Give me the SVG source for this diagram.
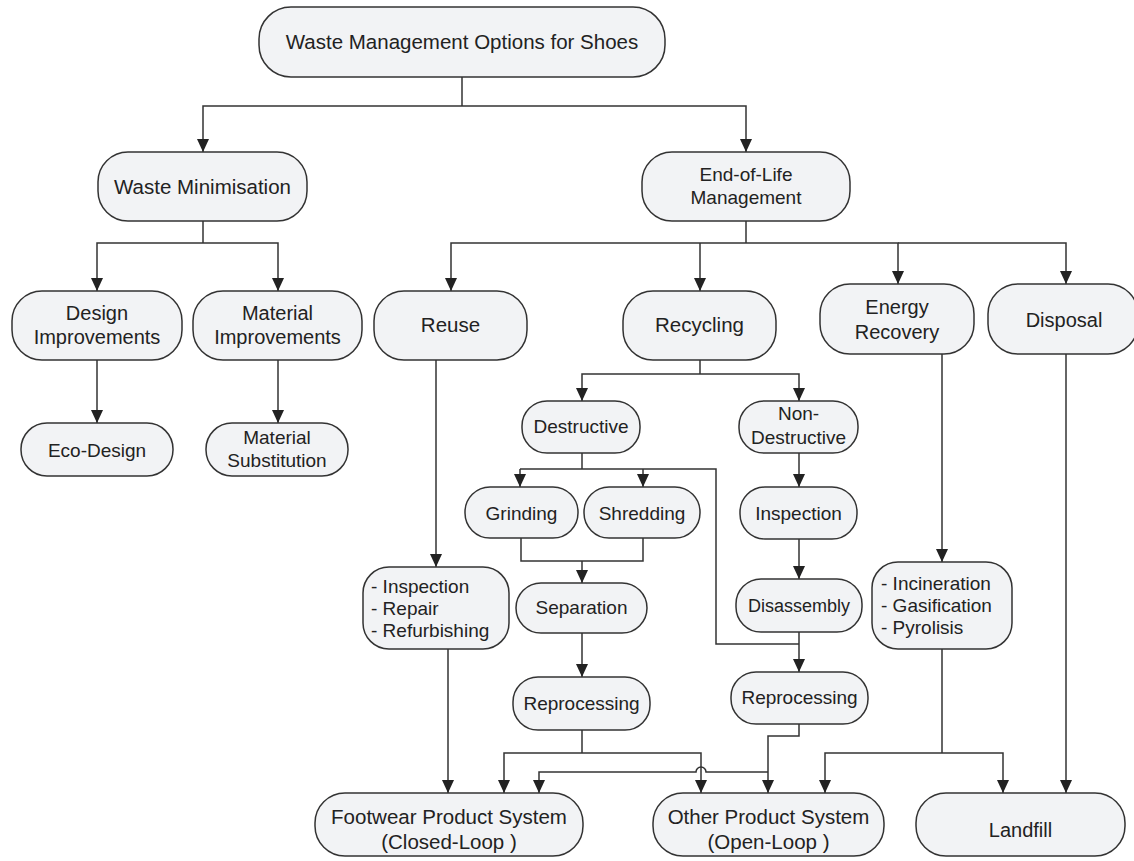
<svg xmlns="http://www.w3.org/2000/svg" width="1134" height="861" viewBox="0 0 1134 861">
<style>
  .box { fill: #f2f3f5; stroke: #333; stroke-width: 1.5; }
  .t { font-family: "Liberation Sans", Arial, sans-serif; font-size: 19px; fill: #222; text-anchor: middle; }
  .t20 { font-size: 20px; }
  .t21 { font-size: 20.5px; }
  .l { text-anchor: start; }
  .c { fill: none; stroke: #333; stroke-width: 1.5; }
  .a { marker-end: url(#arr); }
</style>
<defs>
  <marker id="arr" markerUnits="userSpaceOnUse" markerWidth="12" markerHeight="13" viewBox="0 0 12 13" refX="6" refY="13" orient="0">
    <path d="M0,0 L12,0 L6,13 z" fill="#222"/>
  </marker>
</defs>
<rect width="1134" height="861" fill="#ffffff"/>

<g id="connectors">
  <path class="c" d="M462 77 V106"/>
  <path class="c a" d="M462 106 H203 V152"/>
  <path class="c a" d="M462 106 H746 V152"/>
  <path class="c" d="M203 221 V243"/>
  <path class="c a" d="M203 243 H97 V291"/>
  <path class="c a" d="M203 243 H278 V291"/>
  <path class="c a" d="M97 360 V423"/>
  <path class="c a" d="M278 360 V423"/>
  <path class="c" d="M746 221 V243"/>
  <path class="c a" d="M746 243 H451 V291"/>
  <path class="c a" d="M700 243 V291"/>
  <path class="c a" d="M746 243 H898 V284"/>
  <path class="c a" d="M898 243 H1066 V284"/>
  <path class="c a" d="M436 360 V567"/>
  <path class="c" d="M700 360 V374"/>
  <path class="c a" d="M700 374 H582 V401"/>
  <path class="c a" d="M700 374 H799 V401"/>
  <path class="c" d="M582 453 V469"/>
  <path class="c" d="M520 469 H716 V644 H799"/>
  <path class="c a" d="M520 469 V487"/>
  <path class="c a" d="M643 469 V487"/>
  <path class="c" d="M521 538 V561 H643 V538"/>
  <path class="c a" d="M582 561 V583"/>
  <path class="c a" d="M582 633 V677"/>
  <path class="c a" d="M799 453 V487"/>
  <path class="c a" d="M799 539 V579"/>
  <path class="c a" d="M799 632 V672"/>
  <path class="c" d="M582 730 V753"/>
  <path class="c a" d="M582 753 H504 V793"/>
  <path class="c a" d="M582 753 H701 V793"/>
  <path class="c a" d="M799 724 V736 H768 V793"/>
  <path class="c a" d="M768 772 H706 A5 5 0 0 0 696 772 H539 V793"/>
  <path class="c a" d="M448 649 V793"/>
  <path class="c a" d="M942 354 V562"/>
  <path class="c" d="M942 649 V753"/>
  <path class="c a" d="M942 753 H825 V793"/>
  <path class="c a" d="M942 753 H1003 V793"/>
  <path class="c a" d="M1066 354 V793"/>
</g>

<g id="n-top">
  <rect class="box" x="259" y="7" width="406" height="70" rx="32"/>
  <text class="t t21" x="462" y="49">Waste Management Options for Shoes</text>
</g>
<g id="n-wmin">
  <rect class="box" x="98" y="152" width="209" height="69" rx="30"/>
  <text class="t t21" x="202.5" y="194">Waste Minimisation</text>
</g>
<g id="n-eol">
  <rect class="box" x="642" y="152" width="208" height="69" rx="30"/>
  <text class="t" x="746" y="181">End-of-Life</text>
  <text class="t" x="746" y="204">Management</text>
</g>
<g id="n-design">
  <rect class="box" x="12" y="291" width="170" height="69" rx="30"/>
  <text class="t t20" x="97" y="320">Design</text>
  <text class="t t20" x="97" y="344">Improvements</text>
</g>
<g id="n-matimp">
  <rect class="box" x="193" y="291" width="169" height="69" rx="30"/>
  <text class="t t20" x="277.5" y="320">Material</text>
  <text class="t t20" x="277.5" y="344">Improvements</text>
</g>
<g id="n-eco">
  <rect class="box" x="21" y="423" width="152" height="53" rx="26"/>
  <text class="t" x="97" y="457">Eco-Design</text>
</g>
<g id="n-matsub">
  <rect class="box" x="206" y="423" width="142" height="53" rx="26"/>
  <text class="t" x="277" y="444">Material</text>
  <text class="t" x="277" y="467">Substitution</text>
</g>
<g id="n-reuse">
  <rect class="box" x="374" y="291" width="153" height="69" rx="30"/>
  <text class="t t21" x="450.5" y="332">Reuse</text>
</g>
<g id="n-recycling">
  <rect class="box" x="623" y="291" width="153" height="69" rx="30"/>
  <text class="t t21" x="699.5" y="332">Recycling</text>
</g>
<g id="n-energy">
  <rect class="box" x="820" y="284" width="154" height="70" rx="30"/>
  <text class="t t20" x="897" y="314">Energy</text>
  <text class="t t20" x="897" y="339">Recovery</text>
</g>
<g id="n-disposal">
  <rect class="box" x="988" y="284" width="150" height="70" rx="30"/>
  <text class="t t20" x="1064" y="327">Disposal</text>
</g>
<g id="n-destructive">
  <rect class="box" x="522" y="401" width="118" height="52" rx="25"/>
  <text class="t" x="581" y="433">Destructive</text>
</g>
<g id="n-nondestructive">
  <rect class="box" x="739" y="401" width="119" height="52" rx="25"/>
  <text class="t" x="798.5" y="420">Non-</text>
  <text class="t" x="798.5" y="444">Destructive</text>
</g>
<g id="n-grinding">
  <rect class="box" x="465" y="487" width="113" height="51" rx="25"/>
  <text class="t" x="521.5" y="520">Grinding</text>
</g>
<g id="n-shredding">
  <rect class="box" x="584" y="487" width="116" height="51" rx="25"/>
  <text class="t" x="642" y="520">Shredding</text>
</g>
<g id="n-inspection">
  <rect class="box" x="740" y="487" width="117" height="52" rx="25"/>
  <text class="t" x="798.5" y="520">Inspection</text>
</g>
<g id="n-separation">
  <rect class="box" x="516" y="583" width="131" height="50" rx="25"/>
  <text class="t" x="581.5" y="614">Separation</text>
</g>
<g id="n-disassembly">
  <rect class="box" x="736" y="579" width="126" height="53" rx="25"/>
  <text class="t" x="799" y="612" style="font-size:18px">Disassembly</text>
</g>
<g id="n-reprocessing-l">
  <rect class="box" x="513" y="677" width="137" height="53" rx="25"/>
  <text class="t" x="581.5" y="710">Reprocessing</text>
</g>
<g id="n-reprocessing-r">
  <rect class="box" x="731" y="672" width="137" height="52" rx="25"/>
  <text class="t" x="799.5" y="704">Reprocessing</text>
</g>
<g id="n-reuse-steps">
  <rect class="box" x="363" y="567" width="146" height="82" rx="26"/>
  <text class="t l" x="371" y="593">- Inspection</text>
  <text class="t l" x="371" y="615">- Repair</text>
  <text class="t l" x="371" y="637">- Refurbishing</text>
</g>
<g id="n-energy-steps">
  <rect class="box" x="872" y="562" width="140" height="87" rx="26"/>
  <text class="t l" x="881" y="590">- Incineration</text>
  <text class="t l" x="881" y="612">- Gasification</text>
  <text class="t l" x="881" y="634">- Pyrolisis</text>
</g>
<g id="n-footwear">
  <rect class="box" x="315" y="793" width="268" height="63" rx="30"/>
  <text class="t t21" x="449" y="824">Footwear Product System</text>
  <text class="t t21" x="449" y="849">(Closed-Loop )</text>
</g>
<g id="n-other">
  <rect class="box" x="653" y="793" width="231" height="63" rx="30"/>
  <text class="t t21" x="768.5" y="824">Other Product System</text>
  <text class="t t21" x="768.5" y="849">(Open-Loop )</text>
</g>
<g id="n-landfill">
  <rect class="box" x="916" y="793" width="209" height="63" rx="30"/>
  <text class="t t20" x="1020.5" y="837">Landfill</text>
</g>
</svg>
